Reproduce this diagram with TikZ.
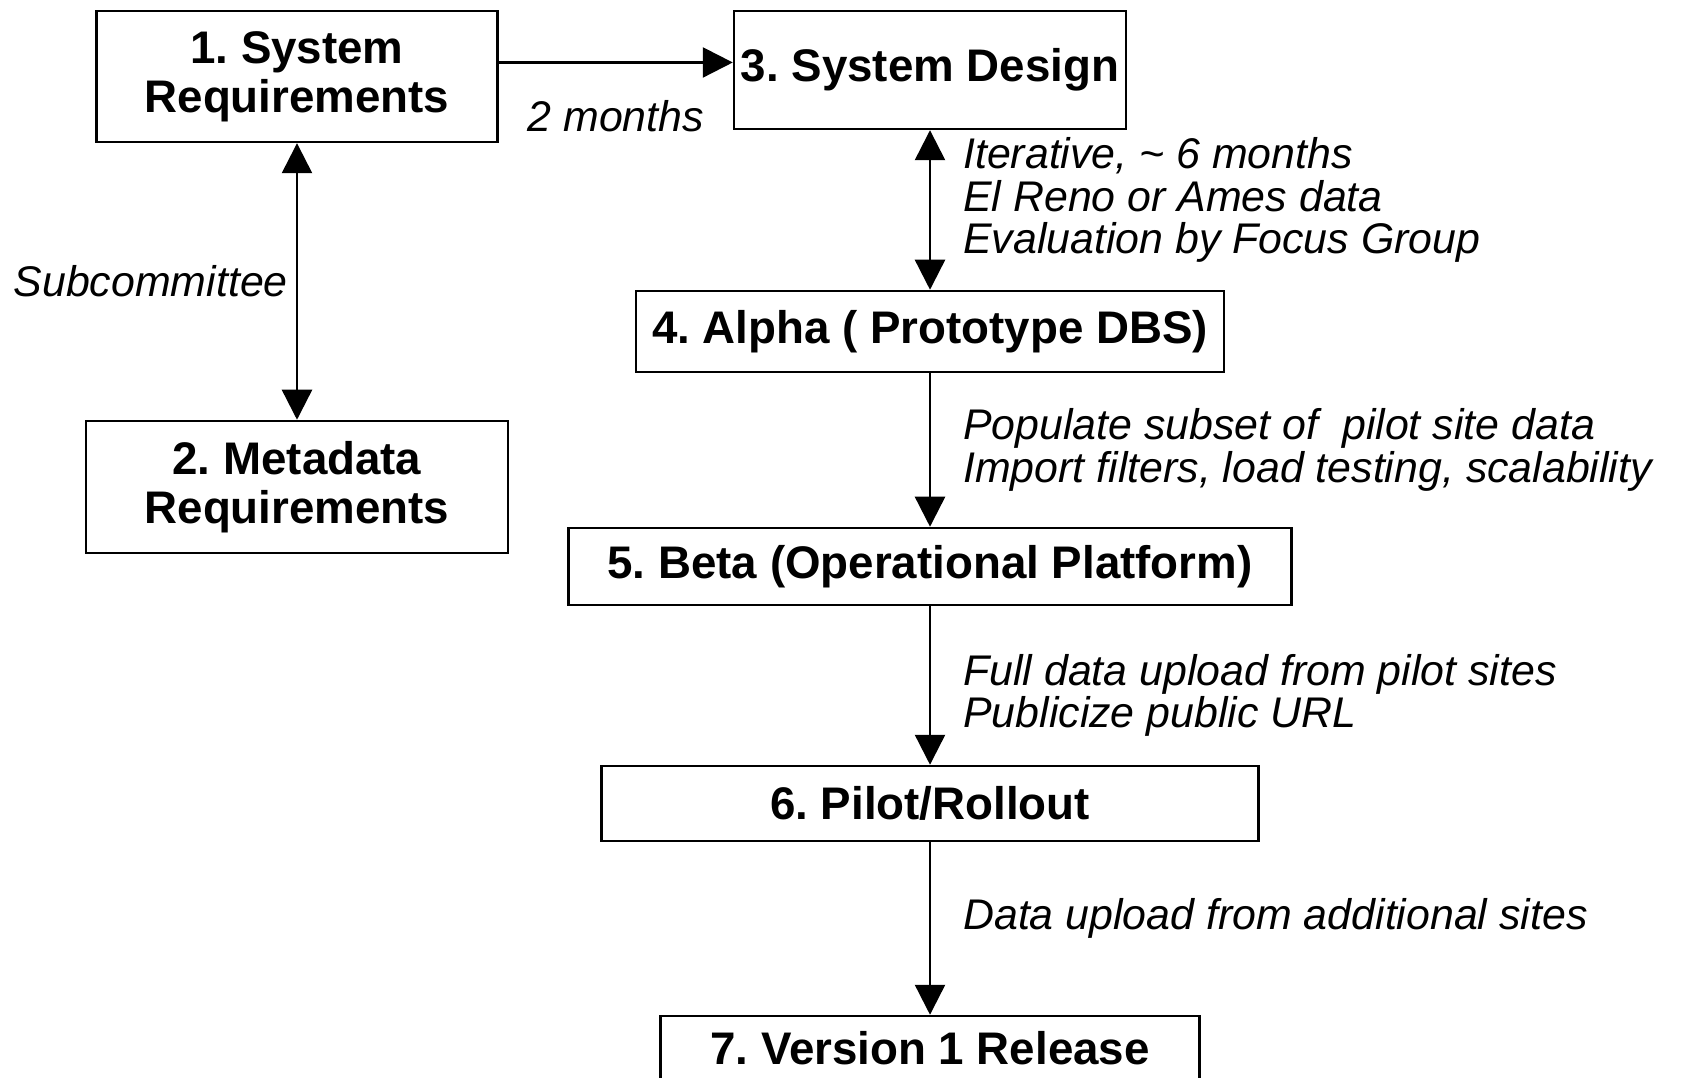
\documentclass[tikz,border=0pt]{standalone}
\usepackage{fontspec}
\setmainfont{Liberation Sans}
\usetikzlibrary{arrows.meta,positioning}
\frenchspacing

\begin{document}
\begin{tikzpicture}[>={Triangle[length=3.0mm,width=3.0mm]},
  stage/.style={draw, line width=0.7pt, inner sep=0pt, align=center, font=\fontsize{13}{14}\selectfont\bfseries},
  note/.style={inner sep=0pt, align=left, font=\fontsize{12.2}{12}\selectfont\itshape},
  flow/.style={line width=0.7pt}]
  \useasboundingbox (0,0) rectangle (16.89,10.78);
  % Requirements
  \node[stage, minimum width=4.01cm, minimum height=1.31cm] (sysreq) at (2.97,10.015) {1. System\\Requirements};
  \node[stage, minimum width=4.22cm, minimum height=1.32cm] (metareq) at (2.97,5.91) {2. Metadata\\Requirements};
  % Development stages
  \node[stage, minimum width=3.92cm, minimum height=1.18cm] (design) at (9.30,10.08) {3. System Design};
  \node[stage, minimum width=5.88cm, minimum height=0.81cm] (alpha) at (9.30,7.465) {4. Alpha ( Prototype DBS)};
  \node[stage, minimum width=7.23cm, minimum height=0.77cm] (beta) at (9.30,5.115) {5. Beta (Operational Platform)};
  \node[stage, minimum width=6.57cm, minimum height=0.75cm] (pilot) at (9.30,2.745) {6. Pilot/Rollout};
  \node[stage, minimum width=5.39cm, minimum height=0.64cm] (release) at (9.30,0.30) {7. Version 1 Release};
  % Connectors
  \draw[flow, ->] ([yshift=1.4mm]sysreq.east) -- ([yshift=1.4mm]sysreq.east -| design.west)
    node[note, midway, yshift=-5.35mm] (twomonths) {2 months};
  \draw[flow, <->] (sysreq) -- (metareq)
    node[note, midway, left=0.8mm] (subcom) {Subcommittee};
  \draw[flow, <->] (design) -- (alpha)
    node[note, midway, right=3.2mm, yshift=1mm] (iterate) {Iterative, \textasciitilde\ 6 months\\El Reno or Ames data\\Evaluation by Focus Group};
  \draw[flow, ->] (alpha) -- (beta)
    node[note, midway, right=3.2mm] (populate) {Populate subset of~ pilot site data\\Import filters, load testing, scalability};
  \draw[flow, ->] (beta) -- (pilot)
    node[note, midway, right=3.2mm, yshift=-1mm] (upload) {Full data upload from pilot sites\\Publicize public URL};
  \draw[flow, ->] (pilot) -- (release)
    node[note, midway, right=3.2mm, yshift=1mm] (moresites) {Data upload from additional sites};
\end{tikzpicture}
\end{document}
